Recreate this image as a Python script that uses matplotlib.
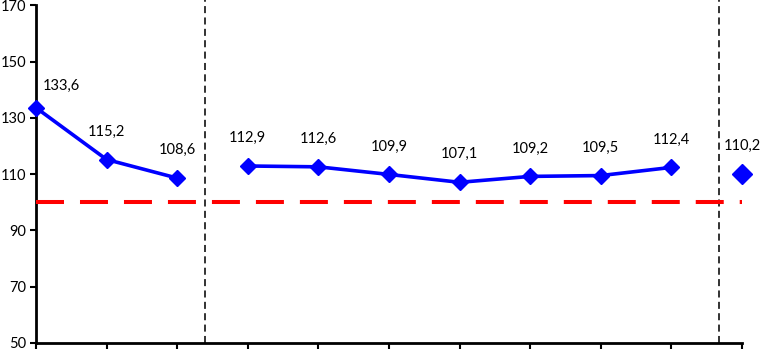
import matplotlib
matplotlib.use("Agg")
import matplotlib.pyplot as plt

plt.rcParams['font.family'] = ['Lato', 'DejaVu Sans']

# data
x_first = [0, 1, 2]
y_first = [133.6, 115.2, 108.6]
x_mid = [3, 4, 5, 6, 7, 8, 9]
y_mid = [112.9, 112.6, 109.9, 107.1, 109.2, 109.5, 112.4]
x_last = [10]
y_last = [110.2]
ref_level = 100
y_ticks = [50, 70, 90, 110, 130, 150, 170]
split_lines = [2.4, 9.68]

fig = plt.figure(figsize=(7.61, 3.49), dpi=100)
ax = fig.add_axes([36 / 761, 6 / 349, 706 / 761, 337.7 / 349])

blue = '#0000FF'
ax.plot(x_first, y_first, color=blue, lw=2.6, marker='D', ms=8.5, zorder=4, clip_on=False)
ax.plot(x_mid, y_mid, color=blue, lw=2.6, marker='D', ms=8.5, zorder=4, clip_on=False)
ax.plot(x_last, y_last, color=blue, lw=0, marker='D', ms=10.5, zorder=4, clip_on=False)

ax.plot([0, 10], [ref_level, ref_level], color='#FF0000', lw=2.9,
        dashes=(6.95, 3.97), zorder=3, clip_on=False)

for xv in split_lines:
    ax.axvline(xv, color='#222222', lw=1.3, dashes=(3.9, 2.4), ymin=0, ymax=1.02,
               clip_on=False, zorder=2)

# data labels
xs = x_first + x_mid + x_last
ys = y_first + y_mid + y_last
for i, (xv, yv) in enumerate(zip(xs, ys)):
    dx, dy = (25, 22) if i == 0 else (0, 28)
    ax.annotate(f"{yv:.1f}".replace('.', ','), (xv, yv), xytext=(dx, dy),
                textcoords='offset pixels', ha='center', va='center',
                fontsize=10.5, color='black', zorder=5)

ax.set_xlim(0, 10)
ax.set_ylim(50, 170)
ax.set_yticks(y_ticks)
ax.set_xticks(range(0, 11))
ax.set_xticklabels([])
ax.tick_params(axis='y', direction='out', length=4, width=1.5, labelsize=10.5, pad=3)
ax.tick_params(axis='x', direction='out', length=5, width=1.5)
for s in ['top', 'right']:
    ax.spines[s].set_visible(False)
for s in ['left', 'bottom']:
    ax.spines[s].set_linewidth(2)

fig.savefig('out.png', dpi=100)
